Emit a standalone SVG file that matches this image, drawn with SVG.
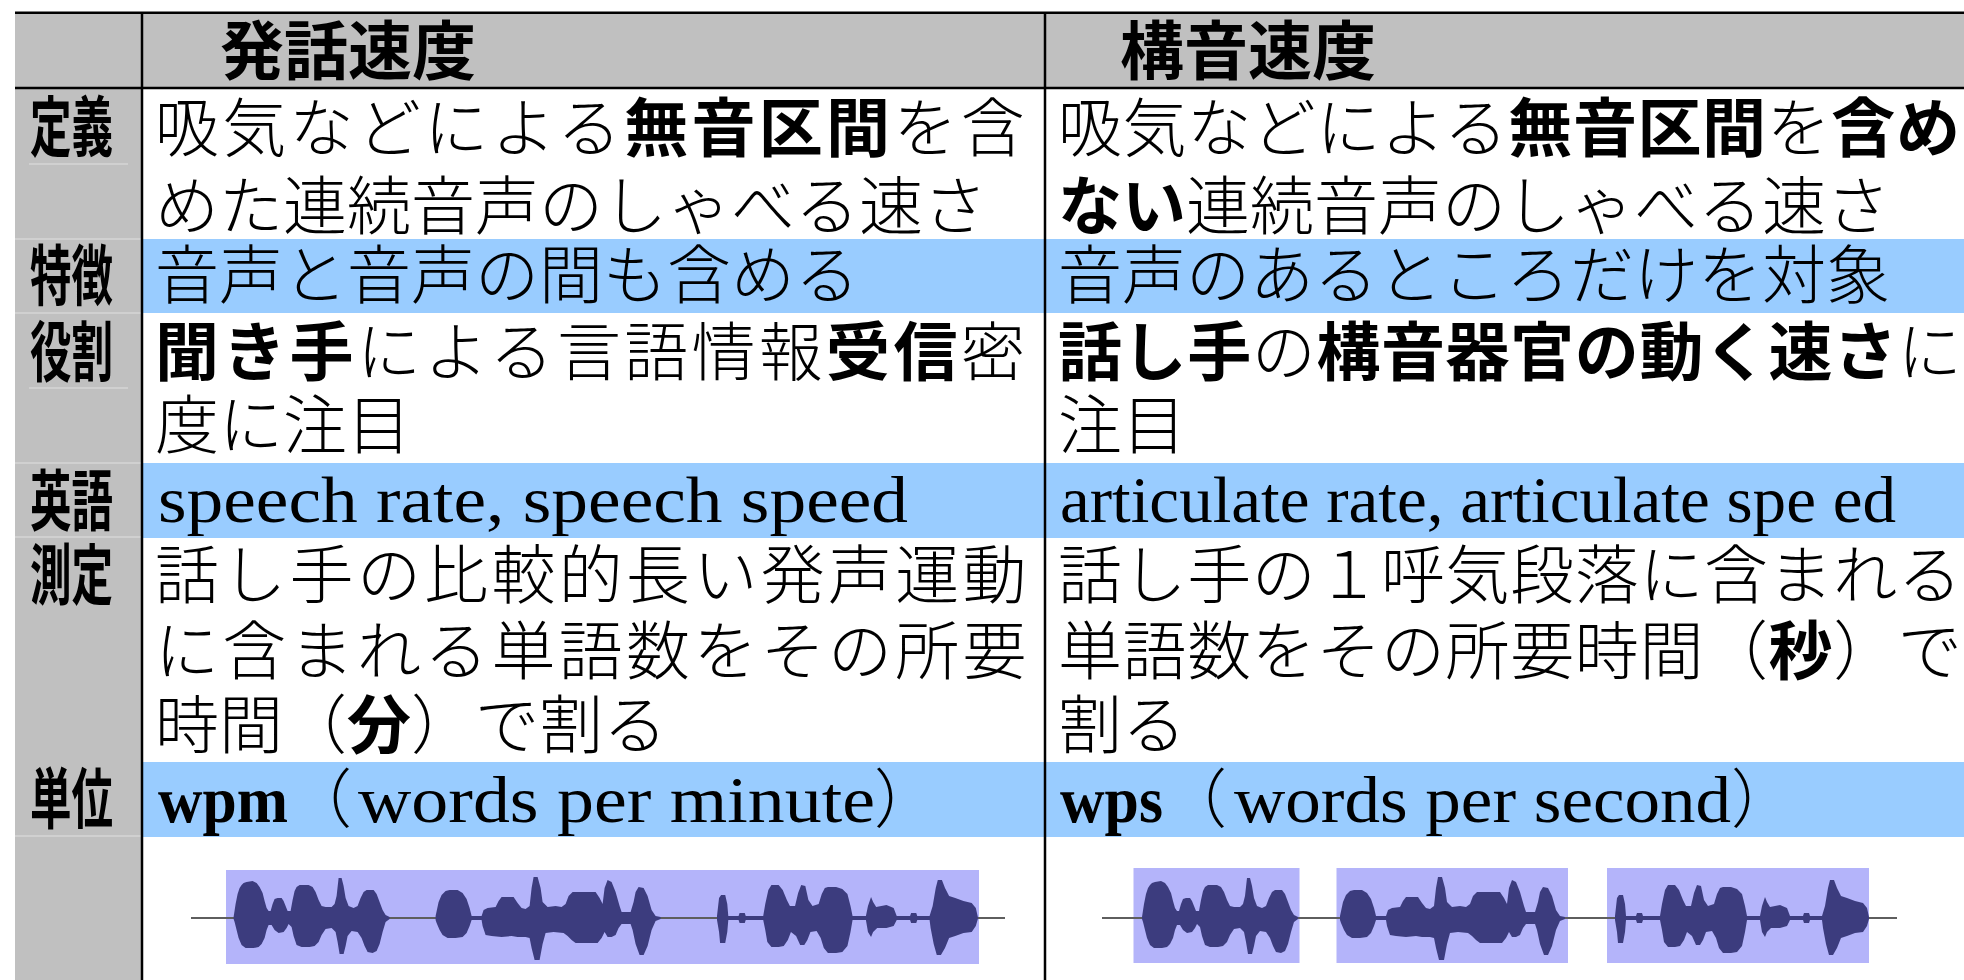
<svg xmlns="http://www.w3.org/2000/svg" width="1964" height="980" viewBox="0 0 1964 980">
<style>
.lab{font-family:"Noto Sans CJK JP",sans-serif;font-weight:bold;font-size:66px;fill:#000}
.hd{font-family:"Noto Sans CJK JP",sans-serif;font-weight:bold;font-size:64px;fill:#000}
.b{font-family:"Liberation Serif","Noto Sans CJK JP",serif;font-size:64px;font-weight:300;fill:#000}
.k{font-weight:bold}
.j1{letter-spacing:3.3px}
.j2{letter-spacing:0.6px}
.en{font-family:"Liberation Serif",serif;font-size:66px;fill:#000}
.cj{font-family:"Noto Sans CJK JP",sans-serif;font-size:64px;font-weight:300;fill:#000}
.band{fill:#99CCFF}
.faint{stroke:#D6D6D6;stroke-width:1.5}
.grid{stroke:#000;stroke-width:2.5}
.wbox{fill:#B4B4FA}
.wline{stroke:#5E5E5E;stroke-width:2}
.wave{fill:#3C3C7E}
</style>
<defs>
<path id="segA" class="wave" d="M0,-1 L2,-14 4,-24 6,-30 8,-33 10,-35 13,-36 19,-37 23,-35 26,-31 29,-25 31,-17 33,-10 35,-7 37,-7 39,-14 41,-19 44,-20 48,-20 50,-17 52,-12 54,-7 57,-7 59,-18 61,-27 63,-31 66,-33 75,-33 79,-31 82,-26 85,-18 88,-12 92,-11 98,-11 101,-14 103,-22 105,-40 108,-40 110,-32 112,-20 115,-12 120,-10 124,-12 127,-20 130,-26 133,-28 140,-28 143,-24 146,-16 149,-8 152,-3 156,-1 L156,1 152,4 149,14 146,26 143,33 139,35 134,34 131,28 128,20 124,14 118,13 114,18 112,28 110,36 106,36 104,24 102,14 98,10 92,11 88,17 85,24 81,28 76,29 68,29 63,27 60,18 58,9 55,6 53,10 50,14 45,15 41,12 38,7 35,7 33,12 31,20 28,26 25,29 20,30 12,30 8,27 5,20 3,12 1,4 0,1 Z"/>
<path id="segB" class="wave" d="M0,-2 L3,-16 6,-23 10,-27 14,-28 22,-28 27,-25 31,-19 34,-10 36,-2 46,-2 48,-8 52,-10 60,-11 63,-17 66,-21 78,-21 82,-15 86,-10 90,-9 94,-12 96,-30 98,-41 102,-41 105,-30 107,-16 112,-11 120,-12 126,-11 130,-14 133,-22 137,-26 160,-26 164,-20 167,-14 169,-30 172,-38 176,-36 180,-26 184,-12 186,-6 195,-6 198,-16 200,-26 203,-31 208,-30 212,-22 216,-8 220,-2 225,-1 L225,1 220,3 216,12 212,28 208,37 204,37 200,26 197,12 195,6 186,6 183,10 180,17 176,19 172,19 169,14 166,20 162,25 140,25 136,22 132,18 128,15 118,14 110,15 107,26 104,42 99,42 96,30 94,20 90,19 82,19 76,18 66,19 56,18 50,17 47,8 46,2 36,2 34,8 31,15 27,19 20,20 12,20 7,17 4,12 1,5 0,2 Z"/>
<path id="segC" class="wave" d="M0,-2 L2,-20 4,-23 8,-23 10,-14 11,-2 21,-2 22,-5 27,-5 28,-2 45,-2 47,-14 50,-28 53,-33 60,-33 64,-28 68,-18 71,-12 76,-12 79,-25 82,-33 86,-32 89,-18 93,-12 99,-14 102,-24 105,-30 108,-31 116,-31 122,-29 127,-24 130,-12 132,-2 145,-2 147,-12 150,-21 152,-16 155,-11 165,-13 172,-10 175,-2 188,-2 189,-5 194,-5 195,-2 207,-2 210,-12 213,-30 215,-38 219,-38 222,-30 226,-22 232,-20 240,-17 248,-15 252,-10 254,-1 L254,1 252,8 248,14 240,15 232,18 226,20 222,30 218,37 214,37 211,26 208,10 207,2 195,2 194,5 189,5 188,2 175,2 172,8 165,10 156,10 152,14 150,19 147,14 145,2 132,2 130,14 127,28 122,34 116,35 108,35 104,30 101,20 97,13 91,14 88,22 85,27 81,27 77,18 72,14 69,22 65,28 60,29 53,29 49,24 47,12 45,2 28,2 27,5 22,5 21,2 11,2 10,14 8,25 3,25 2,14 0,2 Z"/>
</defs>

<rect x="0" y="0" width="1964" height="980" fill="#FFFFFF"/>

<g id="backgrounds">
  <rect x="15" y="12.5" width="1949" height="76" fill="#C0C0C0"/>
  <rect x="15" y="12.5" width="127" height="967.5" fill="#C0C0C0"/>
  <rect class="band" x="142" y="239" width="1822" height="74"/>
  <rect class="band" x="142" y="463" width="1822" height="75"/>
  <rect class="band" x="142" y="762" width="1822" height="75"/>
  <line class="faint" x1="29" y1="164" x2="128" y2="164"/>
  <line class="faint" x1="15" y1="239" x2="141" y2="239"/>
  <line class="faint" x1="15" y1="313" x2="141" y2="313"/>
  <line class="faint" x1="29" y1="388" x2="128" y2="388"/>
  <line class="faint" x1="15" y1="463" x2="141" y2="463"/>
  <line class="faint" x1="15" y1="537" x2="141" y2="537"/>
  <line class="faint" x1="15" y1="836" x2="141" y2="836"/>
</g>

<g id="header">
  <text class="hd" x="220" y="74">発話速度</text>
  <text class="hd" x="1120" y="74">構音速度</text>
</g>

<g id="row-definition">
  <text class="lab" x="30" y="151" textLength="83" lengthAdjust="spacingAndGlyphs">定義</text>
  <text class="b j1" x="155" y="151">吸気などによる<tspan class="k">無音区間</tspan>を含</text>
  <text class="b" x="155" y="229">めた連続音声のしゃべる速さ</text>
  <text class="b j2" x="1058" y="151">吸気などによる<tspan class="k">無音区間</tspan>を<tspan class="k">含め</tspan></text>
  <text class="b" x="1058" y="229"><tspan class="k">ない</tspan>連続音声のしゃべる速さ</text>
</g>

<g id="row-feature">
  <text class="lab" x="30" y="300" textLength="83" lengthAdjust="spacingAndGlyphs">特徴</text>
  <text class="b" x="155" y="298">音声と音声の間も含める</text>
  <text class="b" x="1058" y="298">音声のあるところだけを対象</text>
</g>

<g id="row-role">
  <text class="lab" x="30" y="376" textLength="83" lengthAdjust="spacingAndGlyphs">役割</text>
  <text class="b j1" x="155" y="375"><tspan class="k">聞き手</tspan>による言語情報<tspan class="k">受信</tspan>密</text>
  <text class="b" x="155" y="448">度に注目</text>
  <text class="b j2" x="1058" y="375"><tspan class="k">話し手</tspan>の<tspan class="k">構音器官の動く速さ</tspan>に</text>
  <text class="b" x="1058" y="448">注目</text>
</g>

<g id="row-english">
  <text class="lab" x="30" y="525" textLength="83" lengthAdjust="spacingAndGlyphs">英語</text>
  <text class="en" x="158" y="522" textLength="750" lengthAdjust="spacingAndGlyphs">speech rate, speech speed</text>
  <text class="en" x="1060" y="522" font-size="64" textLength="836" lengthAdjust="spacingAndGlyphs">articulate rate, articulate spe ed</text>
</g>

<g id="row-measure">
  <text class="lab" x="30" y="599" textLength="83" lengthAdjust="spacingAndGlyphs">測定</text>
  <text class="b j1" x="155" y="598">話し手の比較的長い発声運動</text>
  <text class="b j1" x="155" y="674">に含まれる単語数をその所要</text>
  <text class="b" x="155" y="748">時間（<tspan class="k">分</tspan>）で割る</text>
  <text class="b j2" x="1058" y="598">話し手の１呼気段落に含まれる</text>
  <text class="b j2" x="1058" y="674">単語数をその所要時間（<tspan class="k">秒</tspan>）で</text>
  <text class="b" x="1058" y="748">割る</text>
</g>

<g id="row-unit">
  <text class="lab" x="30" y="823" textLength="83" lengthAdjust="spacingAndGlyphs">単位</text>
  <text class="en k" x="158" y="822" textLength="130" lengthAdjust="spacingAndGlyphs">wpm</text>
  <text class="cj" x="288" y="822">（</text>
  <text class="en" x="358" y="822" textLength="517" lengthAdjust="spacingAndGlyphs">words per minute</text>
  <text class="cj" x="874" y="822">）</text>
  <text class="en k" x="1060" y="822" textLength="103" lengthAdjust="spacingAndGlyphs">wps</text>
  <text class="cj" x="1163" y="822">（</text>
  <text class="en" x="1234" y="822" textLength="497" lengthAdjust="spacingAndGlyphs">words per second</text>
  <text class="cj" x="1731" y="822">）</text>
</g>

<g id="waveform-speech">
  <rect class="wbox" x="226" y="870" width="753" height="94"/>
  <line class="wline" x1="191" y1="918" x2="1005" y2="918"/>
  <use href="#segA" transform="translate(233.6,918)"/>
  <use href="#segB" transform="translate(435.6,918)"/>
  <use href="#segC" transform="translate(717,918) scale(1.027,1)"/>
</g>

<g id="waveform-articulation">
  <rect class="wbox" x="1133.5" y="868" width="166" height="95"/>
  <rect class="wbox" x="1336.5" y="868" width="231.5" height="95"/>
  <rect class="wbox" x="1607" y="868" width="262" height="95"/>
  <line class="wline" x1="1102" y1="918" x2="1897" y2="918"/>
  <use href="#segA" transform="translate(1142,918)"/>
  <use href="#segB" transform="translate(1340,918)"/>
  <use href="#segC" transform="translate(1615,918)"/>
</g>

<g id="grid">
  <line class="grid" x1="15" y1="12.7" x2="1964" y2="12.7"/>
  <line class="grid" x1="15" y1="88" x2="1964" y2="88"/>
  <line class="grid" x1="142" y1="12.7" x2="142" y2="980"/>
  <line class="grid" x1="1045" y1="12.7" x2="1045" y2="980"/>
</g>
</svg>
